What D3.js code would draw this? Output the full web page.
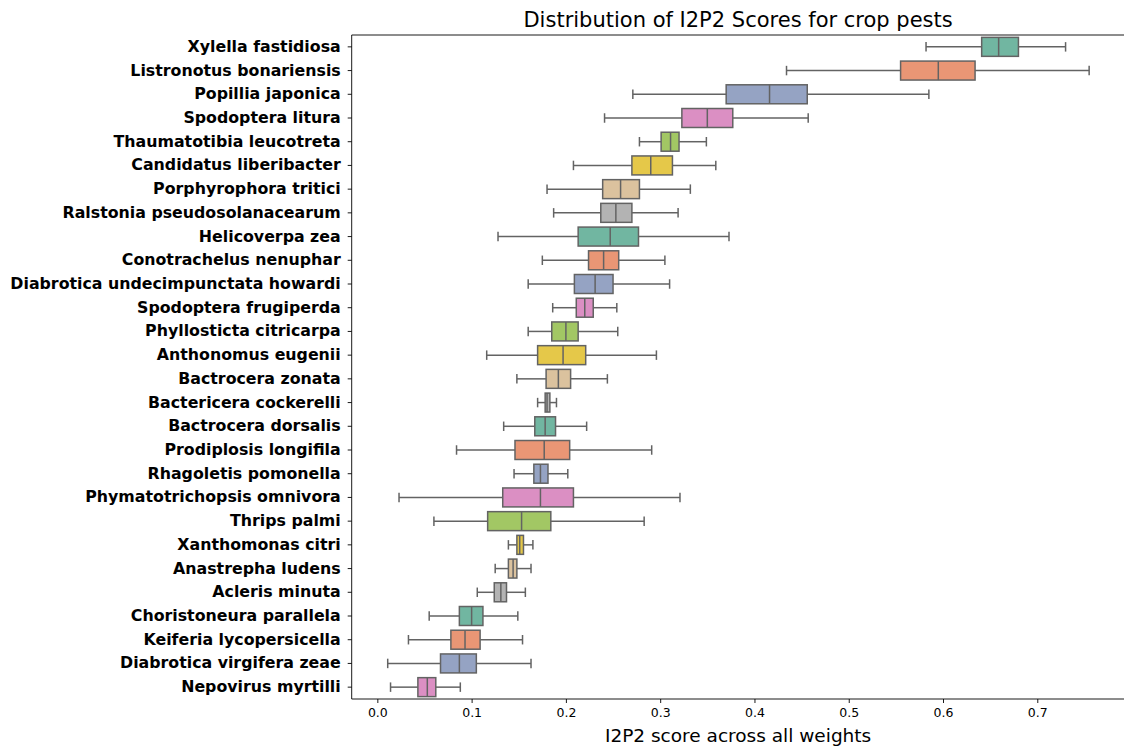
<!DOCTYPE html>
<html><head><meta charset="utf-8">
<script src="https://cdn.jsdelivr.net/npm/d3@7"></script>
<style>html,body{margin:0;padding:0;background:#fff;}svg{display:block;font-family:"DejaVu Sans",sans-serif;}</style>
</head><body>
<svg id="chart" width="1124" height="749"></svg>
<script>
const categories = ["Xylella fastidiosa","Listronotus bonariensis","Popillia japonica","Spodoptera litura","Thaumatotibia leucotreta","Candidatus liberibacter","Porphyrophora tritici","Ralstonia pseudosolanacearum","Helicoverpa zea","Conotrachelus nenuphar","Diabrotica undecimpunctata howardi","Spodoptera frugiperda","Phyllosticta citricarpa","Anthonomus eugenii","Bactrocera zonata","Bactericera cockerelli","Bactrocera dorsalis","Prodiplosis longifila","Rhagoletis pomonella","Phymatotrichopsis omnivora","Thrips palmi","Xanthomonas citri","Anastrepha ludens","Acleris minuta","Choristoneura parallela","Keiferia lycopersicella","Diabrotica virgifera zeae","Nepovirus myrtilli"];
const whiskerLow = [0.582,0.434,0.271,0.241,0.278,0.208,0.180,0.187,0.128,0.175,0.160,0.186,0.160,0.116,0.148,0.170,0.134,0.084,0.145,0.023,0.060,0.139,0.125,0.106,0.055,0.033,0.011,0.014];
const q1 = [0.641,0.555,0.370,0.323,0.301,0.270,0.239,0.237,0.213,0.224,0.209,0.211,0.185,0.170,0.179,0.178,0.167,0.146,0.166,0.133,0.117,0.148,0.139,0.124,0.087,0.078,0.067,0.043];
const median = [0.659,0.595,0.416,0.350,0.311,0.290,0.258,0.253,0.247,0.240,0.231,0.220,0.200,0.197,0.192,0.180,0.178,0.177,0.173,0.173,0.153,0.151,0.144,0.131,0.100,0.093,0.087,0.053];
const q3 = [0.680,0.634,0.456,0.377,0.320,0.313,0.278,0.270,0.277,0.256,0.250,0.229,0.213,0.221,0.205,0.183,0.189,0.204,0.181,0.208,0.184,0.155,0.148,0.137,0.112,0.109,0.105,0.062];
const whiskerHigh = [0.730,0.755,0.585,0.457,0.349,0.359,0.332,0.319,0.373,0.305,0.310,0.254,0.255,0.296,0.244,0.190,0.222,0.291,0.202,0.321,0.283,0.165,0.163,0.157,0.149,0.154,0.163,0.088];
const xTicks = [0.0,0.1,0.2,0.3,0.4,0.5,0.6,0.7];
const palette = ["#71b6a1","#e99675","#95a3c3","#db8fc3","#a2c764","#e5c849","#dbc29e","#b3b3b3"];
const title = "Distribution of I2P2 Scores for crop pests";
const xLabel = "I2P2 score across all weights";

(function(){
const svg = d3.select("#chart");
const mLeft = 351.7, mRight = 1124.5, mTop = 35, mBottom = 699;
const x = d3.scaleLinear().domain([-0.0272, 0.7925]).range([mLeft, mRight]);
const y = d3.scaleBand().domain(categories).range([mTop, mBottom]).paddingInner(0).paddingOuter(0);
const bw = y.bandwidth()*0.8;
const edge = "#636363";

const data = categories.map((c,i)=>({c,i,lo:whiskerLow[i],q1:q1[i],med:median[i],q3:q3[i],hi:whiskerHigh[i]}));

const g = svg.append("g");
data.forEach(d=>{
  const cy = y(d.c)+y.bandwidth()/2;
  const gg = g.append("g");
  gg.append("line").attr("x1",x(d.lo)).attr("x2",x(d.q1)).attr("y1",cy).attr("y2",cy).attr("stroke",edge).attr("stroke-width",1.5);
  gg.append("line").attr("x1",x(d.q3)).attr("x2",x(d.hi)).attr("y1",cy).attr("y2",cy).attr("stroke",edge).attr("stroke-width",1.5);
  [d.lo,d.hi].forEach(v=>gg.append("line").attr("x1",x(v)).attr("x2",x(v)).attr("y1",cy-bw/4).attr("y2",cy+bw/4).attr("stroke",edge).attr("stroke-width",1.5));
  gg.append("rect").attr("x",x(d.q1)).attr("y",cy-bw/2).attr("width",x(d.q3)-x(d.q1)).attr("height",bw)
    .attr("fill",palette[d.i%palette.length]).attr("stroke",edge).attr("stroke-width",1.5);
  gg.append("line").attr("x1",x(d.med)).attr("x2",x(d.med)).attr("y1",cy-bw/2).attr("y2",cy+bw/2).attr("stroke",edge).attr("stroke-width",1.5);
});

const xAxis = svg.append("g").attr("transform",`translate(0,${mBottom})`)
  .call(d3.axisBottom(x).tickValues(xTicks).tickFormat(d3.format(".1f")).tickSize(4).tickPadding(5.5));
xAxis.select(".domain").remove();
xAxis.selectAll("line").attr("stroke","#000").attr("stroke-width",0.9);
xAxis.selectAll("text").attr("font-size","12.5px").attr("fill","#000").attr("font-family","DejaVu Sans");

const yAxis = svg.append("g").attr("transform",`translate(${mLeft},0)`)
  .call(d3.axisLeft(y).tickSize(4).tickPadding(7));
yAxis.select(".domain").remove();
yAxis.selectAll("line").attr("stroke","#000").attr("stroke-width",0.9);
yAxis.selectAll("text").attr("font-size","15.8px").attr("font-weight","bold").attr("fill","#000").attr("font-family","DejaVu Sans");

svg.append("line").attr("x1",mLeft).attr("x2",mLeft).attr("y1",mTop).attr("y2",mBottom).attr("stroke","#000").attr("stroke-width",0.9);
svg.append("line").attr("x1",mLeft).attr("x2",mRight).attr("y1",mTop).attr("y2",mTop).attr("stroke","#000").attr("stroke-width",0.9);
svg.append("line").attr("x1",mLeft).attr("x2",mRight).attr("y1",mBottom).attr("y2",mBottom).attr("stroke","#000").attr("stroke-width",0.9);

svg.append("text").attr("x",(mLeft+mRight)/2).attr("y",27).attr("text-anchor","middle").attr("font-size","21px").attr("fill","#000").text(title);
svg.append("text").attr("x",(mLeft+mRight)/2).attr("y",742).attr("text-anchor","middle").attr("font-size","18.5px").attr("fill","#000").text(xLabel);
})();
</script>
</body></html>
